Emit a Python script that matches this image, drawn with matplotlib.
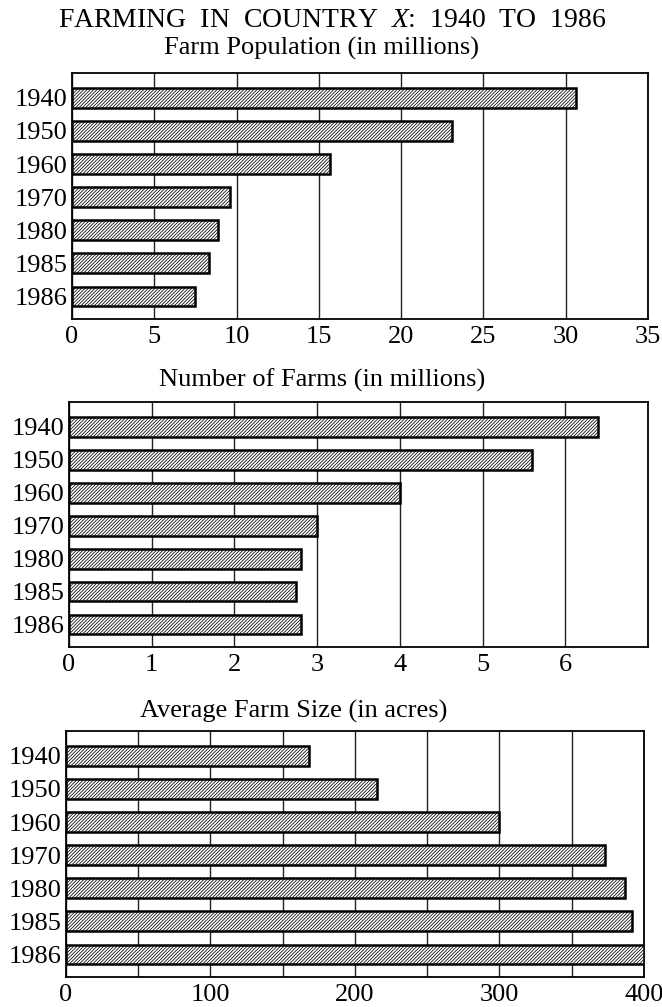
import matplotlib
matplotlib.use("Agg")
import matplotlib.pyplot as plt
from matplotlib.ticker import MultipleLocator

plt.rcParams["font.family"] = ["Liberation Serif", "DejaVu Serif"]
plt.rcParams["mathtext.fontset"] = "custom"
plt.rcParams["mathtext.rm"] = "Liberation Serif"
plt.rcParams["mathtext.it"] = "Liberation Serif:italic"
plt.rcParams["hatch.linewidth"] = 0.55
plt.rcParams["hatch.color"] = "#333333"

# Data
years = ["1940", "1950", "1960", "1970", "1980", "1985", "1986"]
farm_population = [30.6, 23.1, 15.7, 9.6, 8.9, 8.3, 7.5]
number_of_farms = [6.4, 5.6, 4.0, 3.0, 2.8, 2.75, 2.8]
average_size = [168, 215, 300, 373, 387, 392, 400]

W, H = 662, 1007
fig = plt.figure(figsize=(W / 100, H / 100), dpi=100)


def px_axes(left, top, right, bottom):
    return fig.add_axes([left / W, 1 - bottom / H, (right - left) / W, (bottom - top) / H])


def draw_panel(ax, values, xmax, major, minor=None):
    pos = list(range(len(years)))
    ax.set_axisbelow(True)
    ax.barh(pos, values, height=0.6, color="white", edgecolor="black",
            linewidth=1.8, hatch="/" * 10, zorder=3)
    ax.set_xlim(0, xmax)
    ax.set_ylim(len(years) - 1 + 0.68, -0.75)
    ax.set_yticks(pos)
    ax.set_yticklabels(years)
    ax.xaxis.set_major_locator(MultipleLocator(major))
    if minor:
        ax.xaxis.set_minor_locator(MultipleLocator(minor))
        ax.grid(True, axis="x", which="minor", color="#222222", linewidth=1.0)
    ax.grid(True, axis="x", which="major", color="#222222", linewidth=1.0)
    ax.tick_params(axis="both", which="both", length=0, labelsize=19)
    ax.tick_params(axis="x", pad=5)
    ax.tick_params(axis="y", pad=3)
    for s in ax.spines.values():
        s.set_linewidth(1.3)
        s.set_color("black")


# Panel 1: farm population
ax1 = px_axes(72, 73, 648, 319)
draw_panel(ax1, farm_population, 35, 5)

# Panel 2: number of farms
ax2 = px_axes(69, 402, 648, 647)
draw_panel(ax2, number_of_farms, 7, 1)
ax2.set_xticks([0, 1, 2, 3, 4, 5, 6])

# Panel 3: average farm size
ax3 = px_axes(66, 731, 644, 977)
draw_panel(ax3, average_size, 400, 100, minor=50)

# Titles
fig.text(332 / W, 1 - 27 / H, "FARMING  IN  COUNTRY  $\\mathit{X}$:  1940  TO  1986",
         ha="center", va="baseline", fontsize=20)
fig.text(321 / W, 1 - 55 / H, "Farm Population (in millions)",
         ha="center", va="baseline", fontsize=19)
fig.text(322 / W, 1 - 387 / H, "Number of Farms (in millions)",
         ha="center", va="baseline", fontsize=19)
fig.text(294 / W, 1 - 718 / H, "Average Farm Size (in acres)",
         ha="center", va="baseline", fontsize=19)

fig.savefig("out.png", dpi=100, facecolor="white")
